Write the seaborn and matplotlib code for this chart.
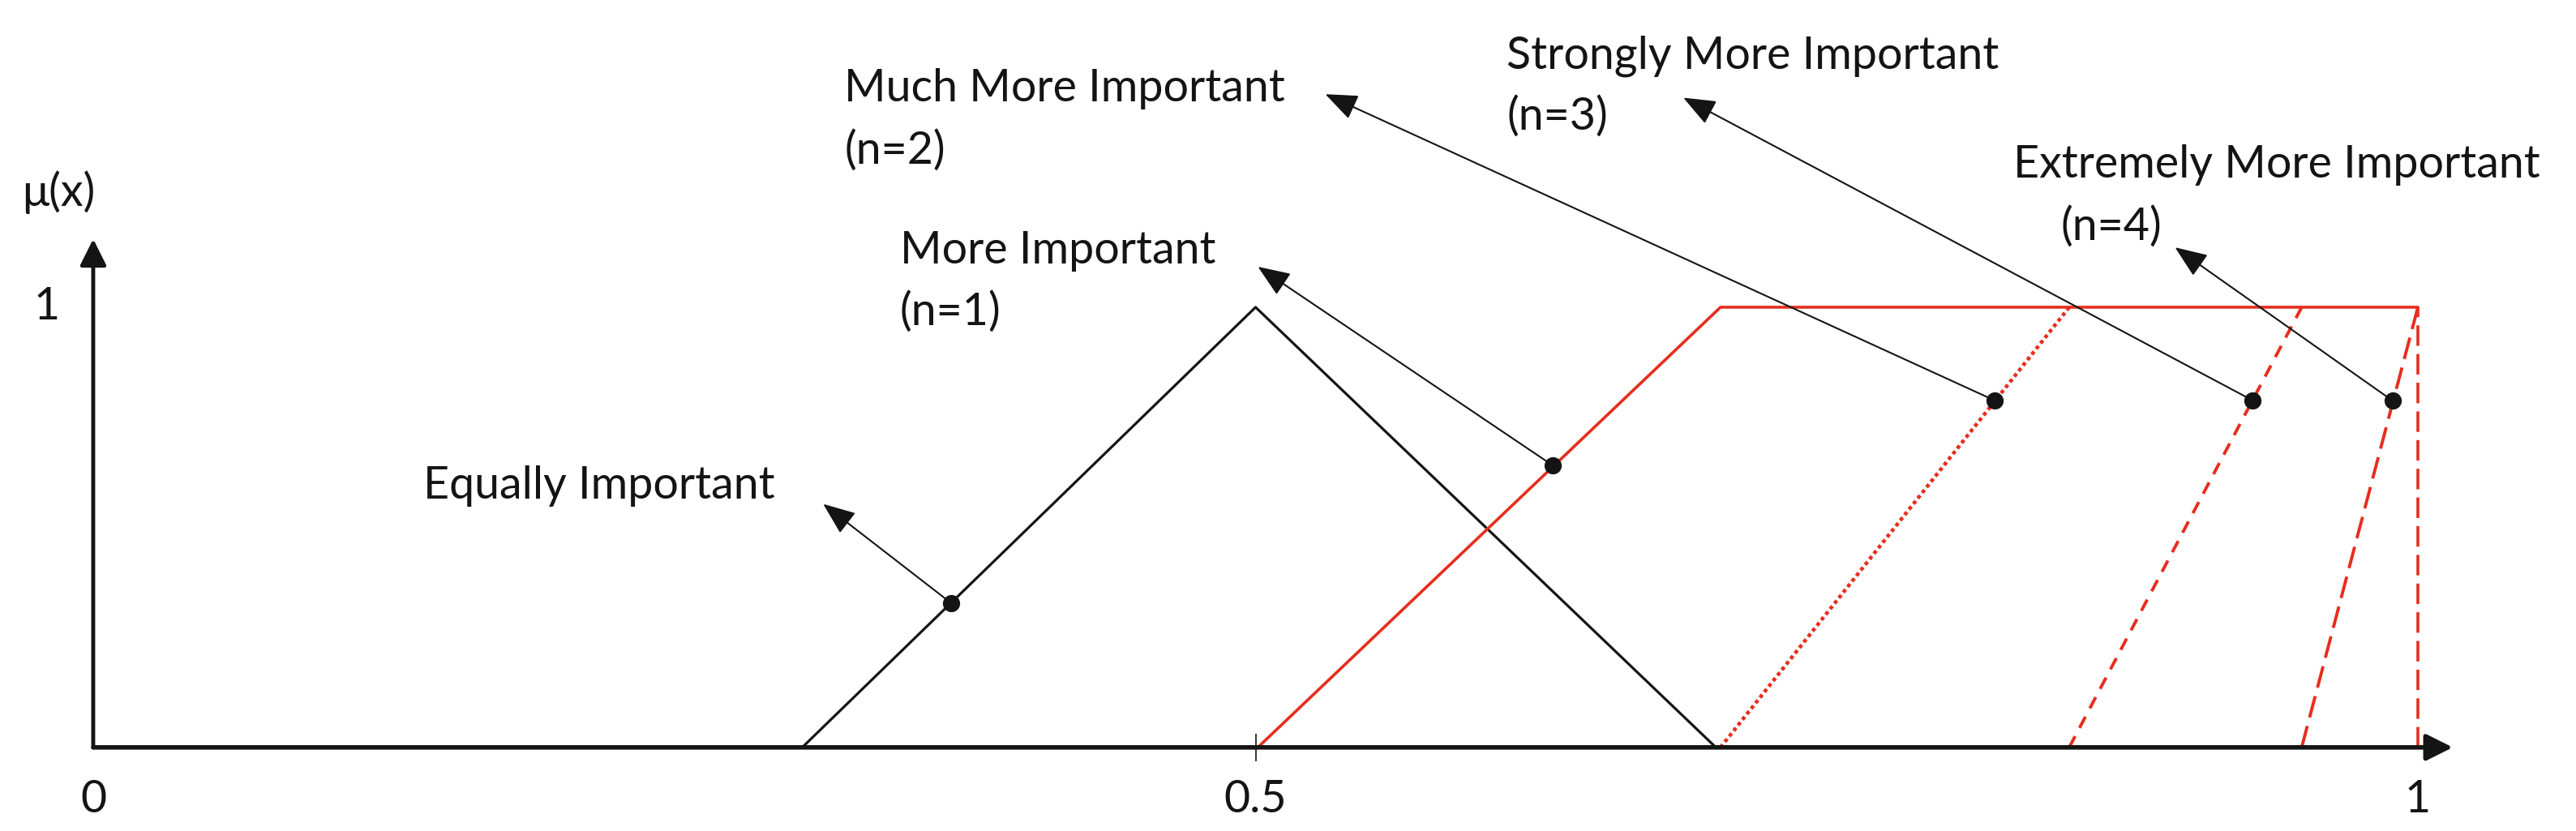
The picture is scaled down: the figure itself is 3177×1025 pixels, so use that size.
import matplotlib
matplotlib.use("Agg")
import matplotlib.pyplot as plt
import seaborn as sns

sns.set_theme(style="white")
plt.rcParams['font.family'] = ['Lato', 'DejaVu Sans']

# membership functions
tri_x = [0.305, 0.5, 0.698]
tri_y = [0, 1, 0]
trap_x = [0.501, 0.7, 1.0]
trap_y = [0, 1, 1]
slope_y = [0, 1]
n2_x = [0.7, 0.85]
n3_x = [0.85, 0.95]
n4_x = [0.95, 1.0]
edge_x = [1.0, 1.0]

# dots on the curves and where the label arrows point
dot_x = [0.369, 0.628, 0.818, 0.929, 0.989]
dot_y = [0.328, 0.64, 0.788, 0.788, 0.788]
tip_x = [0.314, 0.501, 0.530, 0.684, 0.8955]
tip_y = [0.553, 1.092, 1.484, 1.476, 1.136]

label_main = ["Equally Important", "More Important", "Much More Important",
              "Strongly More Important", "Extremely More Important"]
label_n = ["", "(n=1)", "(n=2)", "(n=3)", "(n=4)"]
main_x = [0.142, 0.347, 0.323, 0.608, 0.826]
main_y = [0.565, 1.100, 1.468, 1.542, 1.295]
n_x = [0.142, 0.347, 0.323, 0.608, 0.8465]
n_y = [0.565, 0.960, 1.326, 1.404, 1.153]

xticks = [0, 0.5, 1]
xtick_labels = ["0", "0.5", "1"]

red = "#e62e1e"
ink = "#141414"
fs = 40

fig = plt.figure(figsize=(31.77, 10.25), dpi=100)
ax = fig.add_axes([0, 0, 1, 1])
ax.set_xlim(-0.0401, 1.068)
ax.set_ylim(-0.190, 1.698)
for s in ax.spines.values():
    s.set_visible(False)

# curves
sns.lineplot(x=tri_x, y=tri_y, sort=False, estimator=None, color=ink, lw=2.3, ax=ax)
sns.lineplot(x=trap_x, y=trap_y, sort=False, estimator=None, color=red, lw=2.6, ax=ax)
sns.lineplot(x=n2_x, y=slope_y, sort=False, estimator=None, color=red, lw=3.3,
             linestyle=(0, (1.0, 0.9)), ax=ax)
sns.lineplot(x=n3_x, y=slope_y, sort=False, estimator=None, color=red, lw=2.8,
             linestyle=(0, (4, 3)), ax=ax)
sns.lineplot(x=n4_x, y=slope_y, sort=False, estimator=None, color=red, lw=2.8,
             linestyle=(0, (7, 2.8)), ax=ax)
sns.lineplot(x=edge_x, y=slope_y, sort=False, estimator=None, color=red, lw=2.6,
             linestyle=(0, (7, 2.8)), ax=ax)

# axes with arrow heads
ax.annotate("", xy=(1.015, 0), xytext=(0, 0),
            arrowprops=dict(arrowstyle="-|>,head_length=0.9,head_width=0.45",
                            color=ink, lw=4, mutation_scale=22, shrinkA=0, shrinkB=0))
ax.annotate("", xy=(0, 1.155), xytext=(0, 0),
            arrowprops=dict(arrowstyle="-|>,head_length=0.9,head_width=0.45",
                            color=ink, lw=3.5, mutation_scale=22, shrinkA=0, shrinkB=0))

ax.set_xticks(xticks)
ax.set_xticklabels(xtick_labels)
ax.set_yticks([])
ax.tick_params(axis="x", direction="inout", length=24, width=1.2, color=ink,
               pad=16, labelsize=fs, labelcolor=ink, bottom=True)
ax.xaxis.set_ticks_position("bottom")
ax.spines["bottom"].set_position(("data", 0))
ticks = ax.xaxis.get_major_ticks()
ticks[0].tick1line.set_visible(False)
ticks[2].tick1line.set_visible(False)

ax.text(0.001, 1.23, "μ(x)", fontsize=fs, color=ink, ha="right", va="baseline")
ax.text(-0.02, 1.0, "1", fontsize=fs, color=ink, ha="center", va="center")

# annotation arrows
for i in range(len(dot_x)):
    ax.annotate("", xy=(tip_x[i], tip_y[i]), xytext=(dot_x[i], dot_y[i]),
                arrowprops=dict(arrowstyle="-|>,head_length=0.95,head_width=0.38",
                                color=ink, lw=1.5, mutation_scale=26,
                                shrinkA=0, shrinkB=0))
    ax.text(main_x[i], main_y[i], label_main[i], fontsize=fs, color=ink,
            ha="left", va="baseline")
    if label_n[i]:
        ax.text(n_x[i], n_y[i], label_n[i], fontsize=fs, color=ink,
                ha="left", va="baseline")

sns.scatterplot(x=dot_x, y=dot_y, color=ink, s=200, edgecolor=ink, zorder=5, ax=ax)

fig.savefig("out.png", dpi=100)
